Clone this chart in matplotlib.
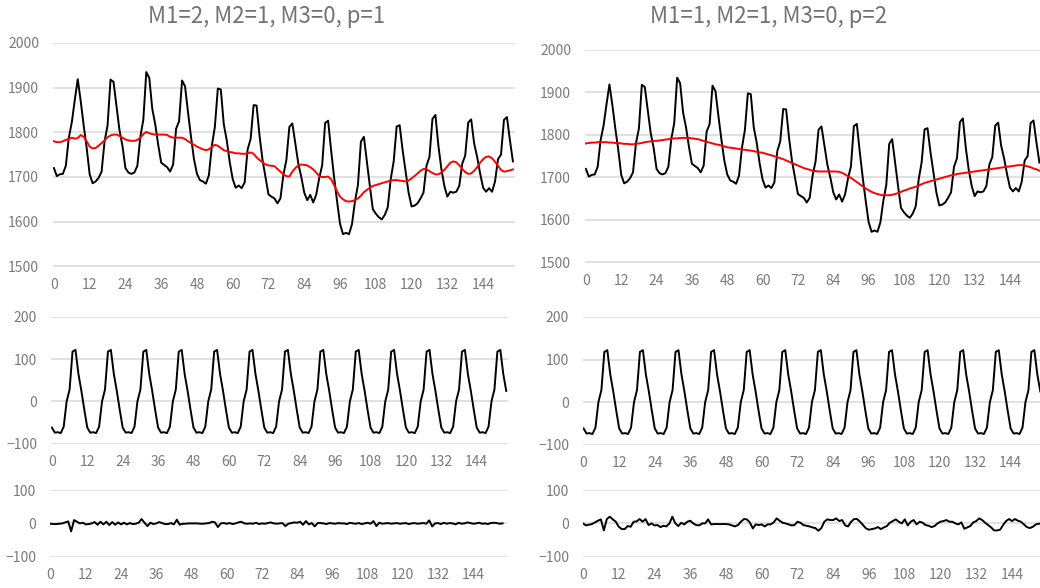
"""
Decomposition of a monthly series with two parameter settings:
original + trend, seasonal part, residual part.
"""
import matplotlib
matplotlib.use("Agg")
import matplotlib.pyplot as plt

plt.rcParams['font.family'] = ['Noto Sans CJK JP', 'DejaVu Sans']

#===========================================
# data (t = 0 .. 154)
titles = ["M1=2, M2=1, M3=0, p=1", "M1=1, M2=1, M3=0, p=2"]
xticks = list(range(0, 145, 12))

observed = [
    1720, 1702, 1706, 1707, 1725, 1788, 1822, 1872, 1919, 1870, 1815, 1765,
    1706, 1686, 1690, 1698, 1712, 1780, 1815, 1918, 1913, 1858, 1805, 1770,
    1720, 1710, 1707, 1710, 1725, 1790, 1828, 1935, 1922, 1853, 1818, 1772,
    1732, 1727, 1722, 1712, 1728, 1808, 1825, 1916, 1903, 1845, 1790, 1740,
    1707, 1693, 1690, 1685, 1704, 1770, 1812, 1898, 1896, 1818, 1782, 1733,
    1695, 1676, 1681, 1675, 1688, 1762, 1785, 1861, 1860, 1792, 1738, 1700,
    1661, 1656, 1652, 1641, 1652, 1705, 1738, 1812, 1820, 1775, 1730, 1700,
    1665, 1648, 1660, 1643, 1660, 1697, 1726, 1821, 1826, 1760, 1700, 1646,
    1595, 1572, 1575, 1572, 1594, 1645, 1682, 1779, 1790, 1735, 1680, 1628,
    1618, 1610, 1605, 1615, 1632, 1695, 1735, 1813, 1816, 1760, 1712, 1665,
    1634, 1636, 1641, 1652, 1665, 1725, 1745, 1830, 1839, 1770, 1718, 1680,
    1656, 1667, 1665, 1667, 1680, 1730, 1748, 1822, 1829, 1775, 1745, 1708,
    1676, 1667, 1675, 1667, 1690, 1740, 1750, 1828, 1834, 1782, 1735,
]

trend_1 = [
    1780, 1778, 1778, 1780, 1783, 1786, 1788, 1786, 1787, 1794, 1790, 1780,
    1768, 1764, 1765, 1770, 1776, 1782, 1789, 1793, 1795, 1795, 1792, 1788,
    1784, 1782, 1781, 1781, 1783, 1788, 1796, 1801, 1798, 1796, 1795, 1795,
    1795, 1795, 1794, 1790, 1788, 1788, 1788, 1788, 1785, 1780, 1776, 1772,
    1768, 1765, 1762, 1760, 1762, 1767, 1772, 1770, 1765, 1760, 1758, 1756,
    1755, 1753, 1753, 1752, 1752, 1753, 1755, 1752, 1744, 1738, 1733, 1728,
    1726, 1725, 1724, 1718, 1712, 1706, 1702, 1701, 1712, 1720, 1726, 1728,
    1727, 1726, 1722, 1717, 1710, 1702, 1700, 1700, 1701, 1695, 1682, 1668,
    1656, 1650, 1646, 1645, 1646, 1648, 1652, 1658, 1666, 1671, 1676, 1680,
    1682, 1684, 1686, 1688, 1690, 1692, 1693, 1693, 1692, 1691, 1690, 1692,
    1697, 1702, 1708, 1714, 1718, 1717, 1713, 1709, 1706, 1706, 1710, 1716,
    1724, 1732, 1735, 1733, 1726, 1718, 1711, 1707, 1708, 1714, 1722, 1732,
    1740, 1745, 1746, 1742, 1734, 1725, 1716, 1712, 1713, 1715, 1717,
]

trend_2 = [
    1780, 1781, 1782, 1782, 1783, 1783, 1783, 1783, 1782, 1782, 1781, 1781,
    1780, 1779, 1779, 1778, 1778, 1779, 1780, 1781, 1783, 1784, 1785, 1786,
    1786, 1787, 1788, 1789, 1790, 1791, 1792, 1792, 1793, 1793, 1793, 1793,
    1792, 1791, 1790, 1788, 1786, 1784, 1782, 1780, 1778, 1777, 1775, 1773,
    1771, 1770, 1769, 1768, 1767, 1766, 1765, 1764, 1763, 1762, 1760, 1759,
    1758, 1756, 1754, 1752, 1750, 1748, 1745, 1743, 1740, 1737, 1734, 1731,
    1728, 1725, 1722, 1720, 1718, 1716, 1715, 1714, 1714, 1714, 1714, 1714,
    1714, 1714, 1713, 1711, 1707, 1703, 1699, 1694, 1689, 1684, 1679, 1674,
    1670, 1666, 1663, 1661, 1659, 1658, 1658, 1658, 1659, 1661, 1663, 1666,
    1669, 1671, 1674, 1676, 1678, 1681, 1684, 1687, 1689, 1691, 1693, 1695,
    1697, 1699, 1701, 1703, 1705, 1706, 1708, 1709, 1710, 1711, 1712, 1713,
    1714, 1715, 1716, 1717, 1718, 1719, 1720, 1721, 1722, 1723, 1724, 1725,
    1726, 1727, 1728, 1729, 1729, 1728, 1726, 1724, 1721, 1719, 1716,
]

# the seasonal part is the same in both settings
seasonal = [
    -62, -74, -73, -75, -60, 0, 28, 118, 122, 65, 25, -20,
    -62, -74, -73, -75, -60, 0, 28, 118, 122, 65, 25, -20,
    -62, -74, -73, -75, -60, 0, 28, 118, 122, 65, 25, -20,
    -62, -74, -73, -75, -60, 0, 28, 118, 122, 65, 25, -20,
    -62, -74, -73, -75, -60, 0, 28, 118, 122, 65, 25, -20,
    -62, -74, -73, -75, -60, 0, 28, 118, 122, 65, 25, -20,
    -62, -74, -73, -75, -60, 0, 28, 118, 122, 65, 25, -20,
    -62, -74, -73, -75, -60, 0, 28, 118, 122, 65, 25, -20,
    -62, -74, -73, -75, -60, 0, 28, 118, 122, 65, 25, -20,
    -62, -74, -73, -75, -60, 0, 28, 118, 122, 65, 25, -20,
    -62, -74, -73, -75, -60, 0, 28, 118, 122, 65, 25, -20,
    -62, -74, -73, -75, -60, 0, 28, 118, 122, 65, 25, -20,
    -62, -74, -73, -75, -60, 0, 28, 118, 122, 65, 25,
]

resid_1 = [
    -1, -2, -2, -1, 0, 3, 6, -24, 10, 5, 0, 2,
    -3, -2, 0, 4, -4, 5, -3, 5, -5, 4, -4, 3,
    -3, 2, -3, 1, -2, -1, 2, 13, 2, -8, 2, -2,
    0, 4, 1, -2, -2, 1, -3, 11, -4, -1, -1, 0,
    0, 0, 0, -1, -1, 0, 1, 5, 3, -11, 0, 1,
    -1, 1, -2, 0, 3, 5, 0, -1, 0, -1, 2, -2,
    0, -1, 1, 3, 0, -1, 0, 1, -8, -1, 1, 3,
    2, 5, -4, 7, -3, 1, -9, 1, 1, 0, -2, 1,
    0, -1, 1, 0, 0, -2, 2, 0, -1, 1, -2, 0,
    2, -1, 7, -8, 2, -1, 0, 1, -1, 0, 1, -1,
    0, 1, -2, 0, 1, -1, 0, 1, -1, 9, -9, 0,
    1, -2, 2, -1, 1, 0, -3, 2, -1, 0, 3, 1,
    -1, 0, 2, -1, 0, -2, 1, 2, 1, -1, 0,
]

resid_2 = [
    0, -6, -4, -2, 3, 8, 12, -21, 13, 20, 12, 5,
    -10, -17, -17, -8, -10, 5, 6, 13, 5, 13, -5, 0,
    -6, -5, -11, -7, -9, 0, 20, 0, -8, 2, -3, 5,
    8, 0, -5, -6, 0, 0, 12, -3, -2, -2, -2, -2,
    -2, -3, -6, -9, -5, 5, 13, 12, 3, -15, -3, -5,
    -3, -9, -3, -3, 3, 15, 8, 2, 0, -3, -6, -5,
    5, 2, -5, -7, -9, -12, -14, -22, -14, 5, 12, 10,
    10, 15, 7, 10, -6, -9, 5, 13, 13, 5, -5, -15,
    -19, -17, -15, -11, -17, -12, -8, 2, 7, 12, 5, 0,
    12, -6, 5, 10, -3, 5, 2, -5, -7, -11, -8, 0,
    5, 7, 10, 5, 5, 0, -3, 3, -16, -12, -8, 3,
    7, 15, 10, 2, -5, -12, -21, -21, -19, -5, 7, 13,
    7, 13, 8, 5, -3, -11, -14, -10, -3, -1, 0,
]

t = list(range(len(observed)))

#===========================================
W, H = 1040, 588
GRID = '#d9d9d9'
TXT = '#7a7a7a'

# Places an axes by pixel box (left, top, right, bottom) and styles it like Excel
def px_axes(fig, box, xlim, ylim, yticks):
    l, tp, r, b = box
    ax = fig.add_axes([l / W, 1 - b / H, (r - l) / W, (b - tp) / H])
    ax.set_xlim(*xlim)
    ax.set_ylim(ylim[0] - (ylim[1] - ylim[0]) * 0.003, ylim[1])
    ax.set_yticks(yticks)
    ax.set_xticks(xticks)
    for s in ax.spines.values():
        s.set_visible(False)
    ax.yaxis.grid(True, color=GRID, linewidth=1.1)
    ax.xaxis.grid(False)
    ax.set_axisbelow(True)
    ax.tick_params(axis='both', length=0, labelsize=10, colors=TXT)
    ax.tick_params(axis='y', pad=10)
    ax.tick_params(axis='x', pad=8)
    return ax

#===========================================
def main():
    fig = plt.figure(figsize=(W / 100, H / 100), dpi=100)
    fig.patch.set_facecolor('white')

    cols = [
        dict(title=titles[0], tx=267, trend=trend_1, resid=resid_1,
             top=((53, 43, 515, 267), (-0.3, 154.7)),
             mid=((51, 317, 508, 444), (-0.3, 154.6)),
             bot=((50, 490, 507, 557), (-0.2, 155.5))),
        dict(title=titles[1], tx=769, trend=trend_2, resid=resid_2,
             top=((585, 50, 1040, 263), (-0.3, 154.2)),
             mid=((583, 317, 1040, 445), (-0.2, 153.9)),
             bot=((583, 490, 1040, 557), (0.0, 153.4))),
    ]

    for c in cols:
        ax = px_axes(fig, c['top'][0], c['top'][1], (1500, 2000), range(1500, 2001, 100))
        ax.plot(t, observed, color='black', lw=1.4)
        ax.plot(t, c['trend'], color='#ff0000', lw=1.4)

        ax = px_axes(fig, c['mid'][0], c['mid'][1], (-100, 200), [-100, 0, 100, 200])
        ax.plot(t, seasonal, color='black', lw=1.4)

        ax = px_axes(fig, c['bot'][0], c['bot'][1], (-100, 100), [-100, 0, 100])
        ax.plot(t, c['resid'], color='black', lw=1.4)

        fig.text(c['tx'] / W, 1 - 16 / H, c['title'], ha='center', va='center',
                 fontsize=16, color='#737373')

    fig.savefig('out.png', dpi=100, facecolor='white')

main()
